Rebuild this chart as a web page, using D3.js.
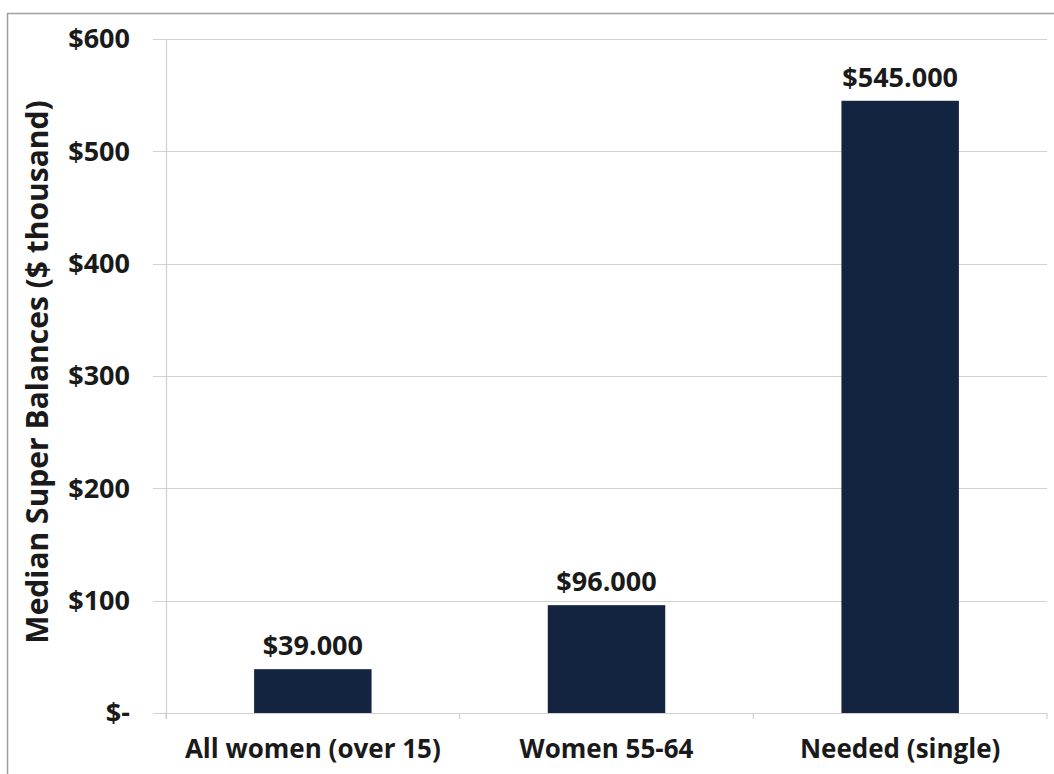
<!DOCTYPE html>
<html><head><meta charset="utf-8">
<script src="https://cdn.jsdelivr.net/npm/d3@7"></script>
<style>body{margin:0;background:#fff}svg{display:block}text{font-family:"Open Sans","DejaVu Sans",sans-serif;font-weight:bold;fill:#1a1a1a}</style>
</head><body><svg id="c" width="1054" height="774"></svg>
<script>
const categories = ["All women (over 15)", "Women 55-64", "Needed (single)"];
const values = [39, 96, 545];
const valueLabels = ["$39.000", "$96.000", "$545.000"];
const yTicks = [0, 100, 200, 300, 400, 500, 600];
const yTickLabels = ["$-", "$100", "$200", "$300", "$400", "$500", "$600"];
const yTitle = "Median Super Balances ($ thousand)";

const svg = d3.select("#c");
const m = {l:166, r:1047, t:39, b:713};
svg.append("rect").attr("x",7.5).attr("y",13.5).attr("width",1060).attr("height",800)
  .attr("fill","none").attr("stroke","#a0a0a0").attr("stroke-width",1.5);

const x = d3.scaleBand().domain(categories).range([m.l,m.r]).paddingInner(0.6).paddingOuter(0.3);
const y = d3.scaleLinear().domain([0,600]).range([m.b,m.t]);

svg.append("g").selectAll("line").data(yTicks).join("line")
  .attr("x1",153).attr("x2",m.r).attr("y1",d=>Math.round(y(d))+0.5).attr("y2",d=>Math.round(y(d))+0.5)
  .attr("stroke","#d0d0d0").attr("stroke-width",1.2);
svg.append("line").attr("x1",m.l+0.5).attr("x2",m.l+0.5).attr("y1",m.t).attr("y2",m.b+6)
  .attr("stroke","#d0d0d0").attr("stroke-width",1.2);
const step = (m.r-m.l)/categories.length;
svg.append("g").selectAll("line").data(d3.range(categories.length+1)).join("line")
  .attr("x1",i=>m.l+i*step).attr("x2",i=>m.l+i*step).attr("y1",m.b).attr("y2",m.b+6)
  .attr("stroke","#d0d0d0").attr("stroke-width",1.2);

svg.append("g").selectAll("text").data(yTicks).join("text")
  .attr("x",130).attr("y",d=>y(d)).attr("dy","0.35em").attr("text-anchor","end")
  .attr("font-size",27).text((d,i)=>yTickLabels[i]);

svg.append("g").selectAll("rect").data(values).join("rect")
  .attr("x",(d,i)=>x(categories[i])).attr("width",x.bandwidth())
  .attr("y",d=>y(d)).attr("height",d=>y(0)-y(d)).attr("fill","#132440");

svg.append("g").selectAll("text").data(values).join("text")
  .attr("x",(d,i)=>x(categories[i])+x.bandwidth()/2).attr("y",d=>y(d)-14)
  .attr("text-anchor","middle").attr("font-size",27).text((d,i)=>valueLabels[i]);

svg.append("g").selectAll("text").data(categories).join("text")
  .attr("x",d=>x(d)+x.bandwidth()/2).attr("y",758)
  .attr("text-anchor","middle").attr("font-size",26).text(d=>d);

svg.append("text").attr("transform","translate(48,372) rotate(-90)")
  .attr("text-anchor","middle").attr("font-size",30).text(yTitle);
</script></body></html>
